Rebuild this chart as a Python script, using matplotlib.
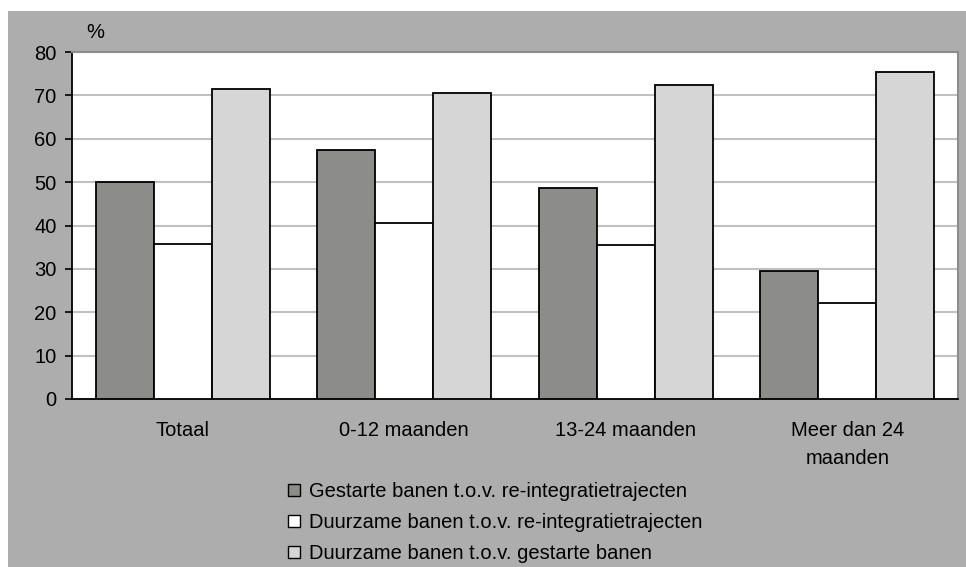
import numpy as np
import matplotlib.pyplot as plt
from matplotlib.patches import Rectangle, Patch

plt.rcParams['font.family'] = ['Liberation Sans', 'DejaVu Sans']

categories = ['Totaal', '0-12 maanden', '13-24 maanden', 'Meer dan 24\nmaanden']
gestart = [50.1, 57.5, 48.7, 29.5]
duurzaam_traject = [35.8, 40.5, 35.4, 22.1]
duurzaam_gestart = [71.4, 70.5, 72.3, 75.5]
series_names = ['Gestarte banen t.o.v. re-integratietrajecten',
                'Duurzame banen t.o.v. re-integratietrajecten',
                'Duurzame banen t.o.v. gestarte banen']
colors = ['#8c8c8a', '#ffffff', '#d6d6d6']

W, H = 966, 567
fs = 14.5
fig = plt.figure(figsize=(W / 100, H / 100), dpi=100, facecolor='white')
fig.patches.append(Rectangle((8 / W, 0), 1 - 8 / W, 1 - 11 / H, transform=fig.transFigure,
                             facecolor='#adadad', edgecolor='none', zorder=-10))

ax = fig.add_axes([72 / W, (H - 399) / H, 886 / W, (399 - 52) / H])
ax.set_facecolor('white')

x = np.arange(len(categories))
bw = 0.262
for i, vals in enumerate([gestart, duurzaam_traject, duurzaam_gestart]):
    ax.bar(x + (i - 1) * bw, vals, bw, color=colors[i], edgecolor='black', linewidth=1.3, zorder=3)

ax.set_xlim(-0.5, 3.5)
ax.set_ylim(0, 80)
ax.set_yticks(range(0, 81, 10))
ax.yaxis.grid(True, color='#c0c0c0', linewidth=1.5, zorder=0)
ax.set_xticks(x)
ax.set_xticklabels(categories, fontsize=fs, linespacing=1.6)
ax.tick_params(axis='x', length=0, pad=16)
ax.tick_params(axis='y', labelsize=fs, length=5, width=1.2, pad=6)
for s in ['left', 'bottom']:
    ax.spines[s].set_color('black')
    ax.spines[s].set_linewidth(1.3)
for s in ['top', 'right']:
    ax.spines[s].set_color('#8c8c8c')
    ax.spines[s].set_linewidth(1.5)

fig.text(86 / W, 1 - 32 / H, '%', fontsize=fs, va='center')

handles = [Patch(facecolor=c, edgecolor='black', linewidth=1) for c in colors]
fig.legend(handles, series_names, loc='upper left', bbox_to_anchor=(288 / W, 1 - 482 / H),
           frameon=False, fontsize=fs, handlelength=0.6, handleheight=0.6,
           handletextpad=0.45, labelspacing=0.6, borderaxespad=0, borderpad=0)

fig.savefig('out.png', dpi=100, facecolor=fig.get_facecolor())
